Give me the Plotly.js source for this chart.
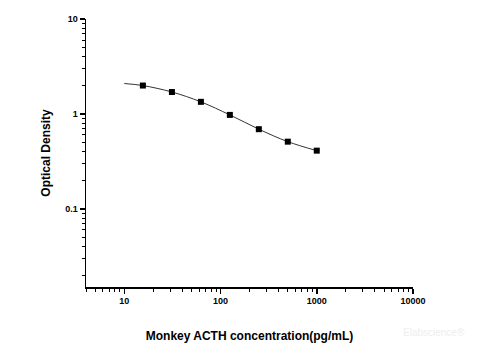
<!DOCTYPE html>
<html>
<head>
<meta charset="utf-8">
<script src="https://cdn.plot.ly/plotly-3.0.1.min.js"></script>
<style>html,body{margin:0;padding:0;background:#fff;}#chart{width:480px;height:360px;}</style>
</head>
<body>
<div id="chart"></div>
<script>
// Standard points (concentration pg/mL, optical density)
const concentrations = [15.6, 31.25, 62.5, 125, 250, 500, 1000];
const odValues = [1.99, 1.70, 1.34, 0.976, 0.69, 0.51, 0.41];
// Fitted curve (starts at 10 pg/mL)
const curveX = [10, 15.6, 31.25, 62.5, 125, 250, 500, 1000];
const curveY = [2.09, 1.99, 1.70, 1.34, 0.976, 0.69, 0.51, 0.41];
// Tick labels
const xTickVals = [10, 100, 1000, 10000];
const xTickText = ["10", "100", "1000", "10000"];
const yTickVals = [0.1, 1, 10];
const yTickText = ["0.1", "1", "10"];

const fontFam = "Arial, 'Liberation Sans', sans-serif";

const traces = [
  {
    x: curveX, y: curveY, type: 'scatter', mode: 'lines',
    line: {color: '#333333', width: 1, shape: 'spline', smoothing: 1},
    hoverinfo: 'skip', showlegend: false
  },
  {
    x: concentrations, y: odValues, type: 'scatter', mode: 'markers',
    marker: {symbol: 'square', size: 6, color: '#000000'},
    showlegend: false
  }
];

const axisCommon = {
  type: 'log',
  showgrid: false, zeroline: false,
  showline: true, linecolor: '#000', linewidth: 1.5,
  ticks: 'outside', ticklen: 5, tickwidth: 1.5, tickcolor: '#000',
  tickfont: {family: fontFam, size: 9, color: '#000', weight: 'bold'},
  minor: {ticks: 'outside', ticklen: 3, tickwidth: 1, tickcolor: '#000', dtick: 'D1', showgrid: false}
};

const layout = {
  width: 480, height: 360,
  margin: {l: 86, r: 67, t: 19, b: 73},
  paper_bgcolor: '#fff', plot_bgcolor: '#fff',
  showlegend: false,
  xaxis: Object.assign({}, axisCommon, {
    range: [Math.log10(4), 4],
    tickvals: xTickVals, ticktext: xTickText,
    title: {text: 'Monkey ACTH concentration(pg/mL)', standoff: 26,
      font: {family: fontFam, size: 12, color: '#000', weight: 'bold'}}
  }),
  yaxis: Object.assign({}, axisCommon, {
    range: [Math.log10(0.015), 1],
    tickvals: yTickVals, ticktext: yTickText,
    title: {text: 'Optical Density', standoff: 12,
      font: {family: fontFam, size: 12, color: '#000', weight: 'bold'}}
  }),
  annotations: [{
    xref: 'paper', yref: 'paper', x: 1.065, y: -0.17,
    xanchor: 'center', yanchor: 'middle', showarrow: false,
    text: 'Elabscience®',
    font: {family: fontFam, size: 10, color: '#eeeeee'}
  }]
};

Plotly.newPlot('chart', traces, layout, {displayModeBar: false, staticPlot: true});
</script>
</body>
</html>
